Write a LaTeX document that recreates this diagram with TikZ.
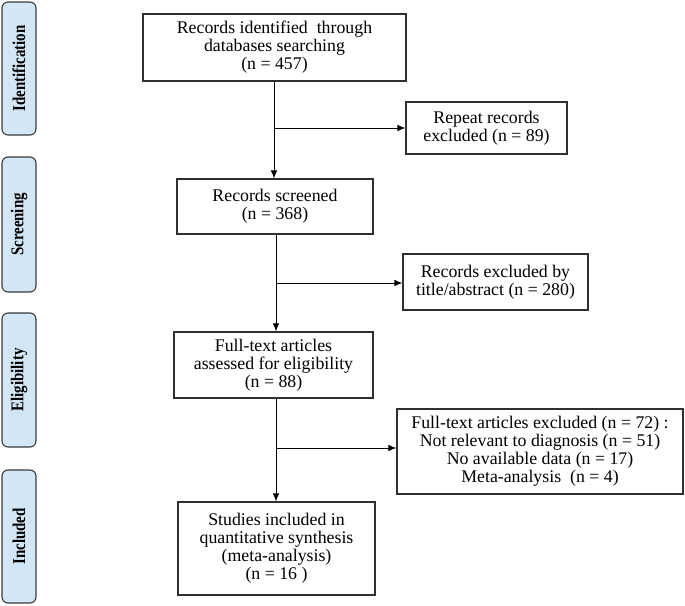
\documentclass[tikz,border=0pt]{standalone}
\usepackage{fontspec}
\usepackage{graphicx}
\setmainfont{Liberation Serif}
\usetikzlibrary{arrows.meta}
\definecolor{sidefill}{HTML}{D2E6F5}
\definecolor{sideline}{HTML}{3A3A3A}
\definecolor{boxline}{HTML}{303030}
\newcommand{\sidelabel}[1]{\scalebox{0.83}[1]{\fontsize{18}{18}\selectfont\bfseries #1}}
\begin{document}
\begin{tikzpicture}[x=1pt,y=1pt,
  sidebox/.style={draw=sideline,line width=1.1pt,fill=sidefill,rounded corners=6pt,rotate=90,
    minimum height=34pt,inner sep=0pt},
  mainbox/.style={draw=boxline,line width=1.1pt,align=center,inner sep=0pt,
    font=\fontsize{17.8}{18}\selectfont},
  conn/.style={line width=0.9pt,black},
  arr/.style={conn,-{Latex[length=8pt,width=6.5pt]}}
]
\useasboundingbox (0,0) rectangle (685,-605);
% side labels
\node[sidebox,minimum width=133pt] (id)  at (19,-68.5) {\sidelabel{Identification}};
\node[sidebox,minimum width=135pt] (scr) at (19,-224.5) {\sidelabel{Screening}};
\node[sidebox,minimum width=134pt] (eli) at (19,-380) {\sidelabel{Eligibility}};
\node[sidebox,minimum width=133pt] (inc) at (19,-536.5) {\sidelabel{Included}};
% main boxes
\node[mainbox,minimum width=263pt,minimum height=67pt] (b1) at (274.5,-47.5)
  {Records identified\ \ through\\databases searching\\(n = 457)};
\node[mainbox,minimum width=161pt,minimum height=52pt] (rep) at (486.5,-128)
  {Repeat records\\excluded (n = 89)};
\node[mainbox,minimum width=196pt,minimum height=55pt] (b2) at (275,-206.5)
  {Records screened\\(n = 368)};
\node[mainbox,minimum width=185pt,minimum height=56pt] (exc1) at (495.5,-282)
  {Records excluded by\\title/abstract (n = 280)};
\node[mainbox,minimum width=199pt,minimum height=66pt] (b3) at (273.5,-365)
  {Full-text articles\\assessed for eligibility\\(n = 88)};
\node[mainbox,minimum width=286pt,minimum height=85pt] (exc2) at (540,-451.5)
  {Full-text articles excluded (n = 72) :\\Not relevant to diagnosis (n = 51)\\No available data (n = 17)\\Meta-analysis\ \ (n = 4)};
\node[mainbox,minimum width=197pt,minimum height=93pt] (b4) at (276.5,-548.5)
  {Studies included in\\quantitative synthesis\\(meta-analysis)\\(n = 16 )};
% connectors
\coordinate (c1) at (274,-128);
\coordinate (c2) at (276,-283);
\coordinate (c3) at (276,-448);
\draw[arr] (b1.south -| c1) -- (b2.north -| c1);
\draw[arr] (c1) -- (rep.west |- c1);
\draw[arr] (b2.south -| c2) -- (b3.north -| c2);
\draw[arr] (c2) -- (exc1.west |- c2);
\draw[arr] (b3.south -| c3) -- (b4.north -| c3);
\draw[arr] (c3) -- (exc2.west |- c3);
\end{tikzpicture}
\end{document}
